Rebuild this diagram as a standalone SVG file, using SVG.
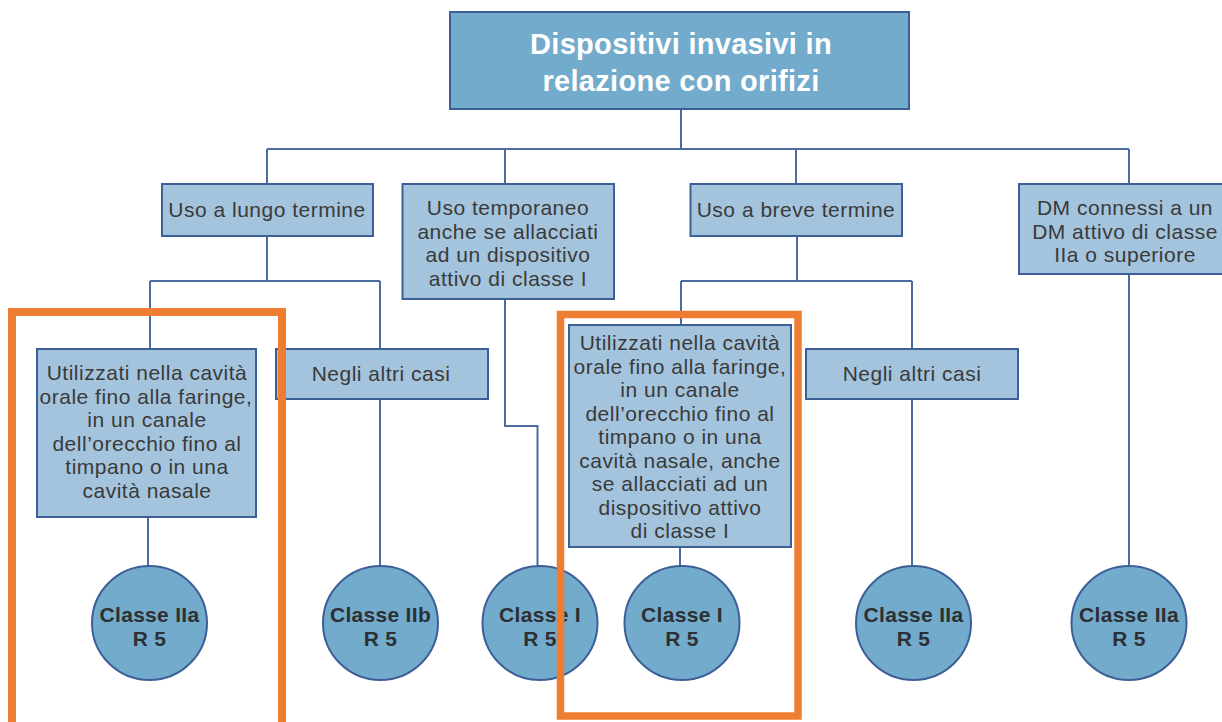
<svg xmlns="http://www.w3.org/2000/svg" width="1222" height="722" viewBox="0 0 1222 722">
<style>
.top{fill:#72abcc;stroke:#3d5f97;stroke-width:2}
.box{fill:#a3c4dc;stroke:#3d5f97;stroke-width:2}
.circ{fill:#72abcc;stroke:#3d5f97;stroke-width:2}
.ttl{font-family:"Liberation Sans",Arial,sans-serif;font-weight:bold;font-size:29px;fill:#ffffff;text-anchor:middle;letter-spacing:0.3px}
.t{font-family:"Liberation Sans",Arial,sans-serif;font-size:21px;fill:#3a3a3a;text-anchor:middle;letter-spacing:0.5px}
.c{font-family:"Liberation Sans",Arial,sans-serif;font-weight:bold;font-size:21px;fill:#2d3033;text-anchor:middle;letter-spacing:0.3px}
.ln{fill:none;stroke:#4a6ca3;stroke-width:2}
.hl{fill:none;stroke:#ee7d31;stroke-width:8}
</style>
<rect width="1222" height="722" fill="#ffffff"/>
<g id="connectors">
<path class="ln" d="M681 109V149M267 149H1129M267 149V184M505 149V184M796 149V184M1129 149V184"/>
<path class="ln" d="M267 236V281M150 281H380M150 281V349M380 281V349"/>
<path class="ln" d="M505 299V426H537.5V566"/>
<path class="ln" d="M797 236V281M681 281H912M681 281V325M912 281V349"/>
<path class="ln" d="M1129 274V566"/>
<path class="ln" d="M148 517V566M380 399V566M680 547V566M912 399V566"/>
</g>
<g id="root">
<rect class="top" x="450" y="12" width="459" height="97"/>
<text class="ttl" x="681" y="54">Dispositivi invasivi in</text>
<text class="ttl" x="681" y="91">relazione con orifizi</text>
</g>
<g id="lungo">
<rect class="box" x="162" y="184" width="211" height="52"/>
<text class="t" x="267" y="217">Uso a lungo termine</text>
</g>
<g id="temporaneo">
<rect class="box" x="402.5" y="184" width="211.5" height="115"/>
<text class="t" x="508" y="215">Uso temporaneo</text>
<text class="t" x="508" y="238.5">anche se allacciati</text>
<text class="t" x="508" y="262">ad un dispositivo</text>
<text class="t" x="508" y="285.5">attivo di classe I</text>
</g>
<g id="breve">
<rect class="box" x="690.5" y="184" width="211.5" height="52"/>
<text class="t" x="796" y="217">Uso a breve termine</text>
</g>
<g id="dm">
<rect class="box" x="1019" y="184" width="212" height="90"/>
<text class="t" x="1125" y="215">DM connessi a un</text>
<text class="t" x="1125" y="238.5">DM attivo di classe</text>
<text class="t" x="1125" y="262">IIa o superiore</text>
</g>
<g id="utilizzati1">
<rect class="box" x="37" y="349" width="219" height="168"/>
<text class="t" x="147" y="380">Utilizzati nella cavità</text>
<text class="t" x="146" y="403.5">orale fino alla faringe,</text>
<text class="t" x="147" y="427">in un canale</text>
<text class="t" x="147" y="450.5">dell’orecchio fino al</text>
<text class="t" x="147" y="474">timpano o in una</text>
<text class="t" x="147" y="497.5">cavità nasale</text>
</g>
<g id="altri1">
<rect class="box" x="276" y="349" width="212" height="50"/>
<text class="t" x="381" y="381">Negli altri casi</text>
</g>
<g id="utilizzati2">
<rect class="box" x="569" y="325" width="222" height="222"/>
<text class="t" x="680" y="350">Utilizzati nella cavità</text>
<text class="t" x="680" y="373.5">orale fino alla faringe,</text>
<text class="t" x="680" y="397">in un canale</text>
<text class="t" x="680" y="420.5">dell’orecchio fino al</text>
<text class="t" x="680" y="444">timpano o in una</text>
<text class="t" x="680" y="467.5">cavità nasale, anche</text>
<text class="t" x="680" y="491">se allacciati ad un</text>
<text class="t" x="680" y="514.5">dispositivo attivo</text>
<text class="t" x="680" y="538">di classe I</text>
</g>
<g id="altri2">
<rect class="box" x="806" y="349" width="212" height="50"/>
<text class="t" x="912" y="381">Negli altri casi</text>
</g>
<g id="c1"><ellipse class="circ" cx="149.5" cy="623" rx="57.5" ry="57"/><text class="c" x="149.5" y="622">Classe IIa</text><text class="c" x="149.5" y="646">R 5</text></g>
<g id="c2"><ellipse class="circ" cx="380.5" cy="623" rx="57.5" ry="57"/><text class="c" x="380.5" y="622">Classe IIb</text><text class="c" x="380.5" y="646">R 5</text></g>
<g id="c3"><ellipse class="circ" cx="540" cy="623" rx="57.5" ry="57"/><text class="c" x="540" y="622">Classe I</text><text class="c" x="540" y="646">R 5</text></g>
<g id="c4"><ellipse class="circ" cx="682" cy="623" rx="57.5" ry="57"/><text class="c" x="682" y="622">Classe I</text><text class="c" x="682" y="646">R 5</text></g>
<g id="c5"><ellipse class="circ" cx="913.5" cy="623" rx="57.5" ry="57"/><text class="c" x="913.5" y="622">Classe IIa</text><text class="c" x="913.5" y="646">R 5</text></g>
<g id="c6"><ellipse class="circ" cx="1129" cy="623" rx="57.5" ry="57"/><text class="c" x="1129" y="622">Classe IIa</text><text class="c" x="1129" y="646">R 5</text></g>
<g id="highlights">
<rect class="hl" x="12" y="312" width="270" height="430"/>
<rect class="hl" x="560.5" y="314.5" width="237.5" height="401.5" style="stroke-width:7.5"/>
</g>
</svg>
